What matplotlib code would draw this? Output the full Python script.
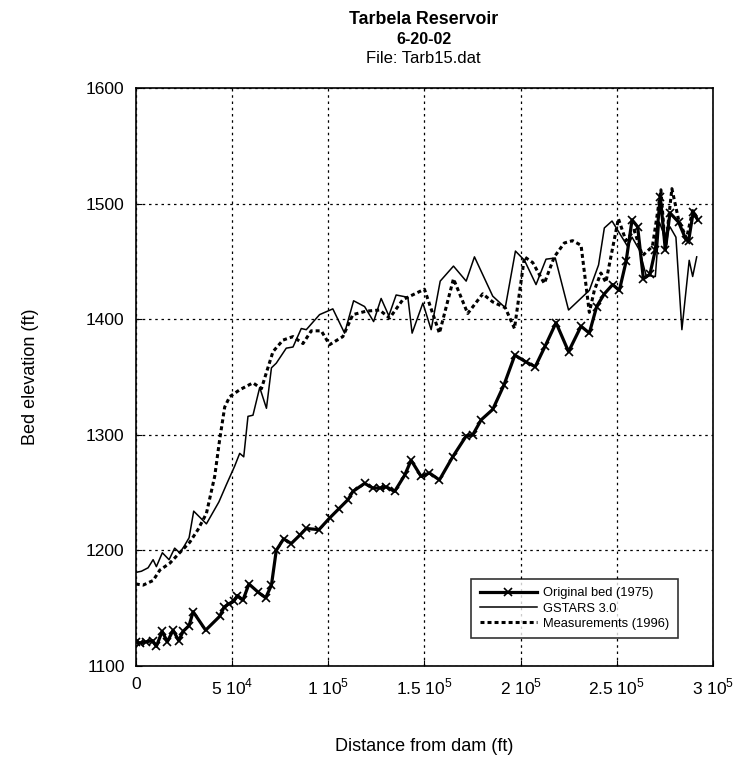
import matplotlib
matplotlib.use("Agg")
import matplotlib.pyplot as plt
from matplotlib.ticker import FixedLocator

plt.rcParams['font.family'] = ['Liberation Sans', 'DejaVu Sans']
plt.rcParams['mathtext.fontset'] = 'custom'
plt.rcParams['mathtext.rm'] = 'Liberation Sans'

# Original bed (1975)
orig_x = [0, 2100, 5500, 8700, 10700, 13700, 16400, 19400, 22300, 24600, 27700, 29800,
          36300, 43600, 45900, 48500, 50900, 52800, 55700, 58800, 63500, 67500, 70500,
          73000, 76800, 80800, 85100, 88600, 95200, 100700, 105500, 110300, 112800,
          118900, 123200, 126700, 130200, 134500, 139700, 143100, 148300, 152600,
          157800, 164700, 171700, 175100, 179500, 185500, 191300, 197000, 202800,
          207600, 212800, 218400, 224900, 231400, 235700, 239500, 243500, 247800,
          251300, 254800, 257900, 260800, 263800, 267200, 270000, 272600, 275200,
          277600, 282100, 285900, 287300, 289700, 292000]
orig_y = [1121, 1120, 1121, 1122, 1117, 1130, 1121, 1131, 1122, 1130, 1135, 1147,
          1131, 1143, 1151, 1154, 1156, 1161, 1157, 1171, 1164, 1159, 1170,
          1200, 1210, 1206, 1213, 1219, 1218, 1228, 1236, 1244, 1251,
          1258, 1254, 1254, 1255, 1251, 1265, 1278, 1264, 1267,
          1261, 1281, 1299, 1300, 1313, 1322, 1343, 1369, 1363,
          1359, 1377, 1397, 1372, 1394, 1388, 1411, 1422, 1430,
          1425, 1450, 1486, 1480, 1435, 1439, 1460, 1506, 1460,
          1492, 1484, 1469, 1468, 1493, 1486]

# GSTARS 3.0
gs_x = [0, 2900, 6400, 9000, 10700, 13800, 17300, 20200, 22800, 24900, 27700, 30100,
        36700, 43200, 47100, 51400, 54000, 56100, 58300, 60900, 64400, 67900, 70500,
        73000, 78200, 81700, 86000, 88600, 95500, 102400, 108500, 113200, 118900,
        123600, 127500, 131500, 135300, 141400, 143600, 149200, 153500, 158200,
        165100, 171700, 176000, 185500, 192000, 197300, 202000, 208000, 213200,
        218000, 224900, 235700, 240500, 243500, 247500, 255600, 257900, 261700,
        265200, 270000, 272100, 275200, 277600, 280700, 283800, 287600, 289400, 291500]
gs_y = [1181, 1182, 1185, 1192, 1186, 1198, 1192, 1202, 1198, 1203, 1211, 1234,
        1223, 1242, 1257, 1273, 1284, 1281, 1316, 1317, 1341, 1323, 1358,
        1362, 1375, 1376, 1392, 1391, 1404, 1409, 1388, 1416, 1411,
        1398, 1418, 1403, 1421, 1419, 1388, 1414, 1391, 1433,
        1446, 1433, 1454, 1420, 1410, 1459, 1451, 1430, 1452,
        1453, 1408, 1425, 1447, 1479, 1485, 1463, 1471, 1460,
        1438, 1437, 1484, 1470, 1480, 1471, 1391, 1451, 1437, 1454]

# Measurements (1996)
ms_x = [0, 3800, 9000, 12500, 17700, 22800, 28000, 32300, 36700, 41000, 43600, 46200,
        48800, 54000, 60900, 65300, 67900, 71300, 76500, 81700, 86900, 91200, 96400,
        100700, 107600, 112800, 119700, 126700, 131900, 138800, 150000, 157800,
        165100, 172500, 180300, 185500, 192000, 196800, 202000, 206300, 212300,
        217500, 222700, 227000, 231400, 235700, 238300, 241700, 244300, 250800,
        254700, 259000, 263300, 268500, 272900, 275200, 278600, 282100, 286200,
        289400, 292000]
ms_y = [1171, 1170, 1174, 1183, 1189, 1198, 1207, 1218, 1232, 1264, 1296, 1324,
        1333, 1339, 1345, 1340, 1354, 1372, 1382, 1385, 1379, 1390, 1390,
        1378, 1385, 1404, 1407, 1408, 1401, 1417, 1426, 1388,
        1435, 1405, 1422, 1415, 1410, 1392, 1454, 1449, 1431,
        1454, 1466, 1468, 1464, 1406, 1425, 1440, 1432, 1487,
        1468, 1477, 1455, 1463, 1512, 1461, 1513, 1486, 1470,
        1494, 1487]

xtick_vals = [0, 50000, 100000, 150000, 200000, 250000, 300000]
xtick_labels = ['0', r'5 10$^{4}$', r'1 10$^{5}$', r'1.5 10$^{5}$', r'2 10$^{5}$',
                r'2.5 10$^{5}$', r'3 10$^{5}$']
ytick_vals = [1100, 1200, 1300, 1400, 1500, 1600]

fig = plt.figure(figsize=(7.42, 7.66), dpi=100)
ax = fig.add_axes([0.183, 0.1305, 0.778, 0.7545])

ax.plot(orig_x, orig_y, color='black', lw=2.3, marker='x', ms=6, mew=1.2,
        label='Original bed (1975)')
ax.plot(gs_x, gs_y, color='black', lw=1.1, label='GSTARS 3.0')
ax.plot(ms_x, ms_y, color='black', lw=2.2, linestyle=(0, (1.3, 1.0)),
        label='Measurements (1996)')

ax.set_xlim(0, 300000)
ax.set_ylim(1100, 1600)
ax.xaxis.set_major_locator(FixedLocator(xtick_vals))
ax.set_xticklabels(xtick_labels)
ax.set_yticks(ytick_vals)
ax.tick_params(direction='in', labelsize=12.5, length=4, pad=8)
ax.grid(True, color='black', linestyle=(0, (2, 3)), lw=0.9)
for s in ax.spines.values():
    s.set_linewidth(1.2)

ax.set_xlabel('Distance from dam (ft)', fontsize=13, labelpad=29)
ax.set_ylabel('Bed elevation (ft)', fontsize=13, labelpad=34)

fig.text(0.571, 0.975, 'Tarbela Reservoir', ha='center', va='center',
         fontsize=12.8, fontweight='bold')
fig.text(0.571, 0.948, '6-20-02', ha='center', va='center',
         fontsize=11.5, fontweight='bold')
fig.text(0.571, 0.924, 'File: Tarb15.dat', ha='center', va='center', fontsize=12)

leg = ax.legend(loc='lower right', bbox_to_anchor=(0.950, 0.037), fontsize=9.3,
                frameon=True, fancybox=False, edgecolor='black', handlelength=4.4,
                borderpad=0.65, labelspacing=0.25, handletextpad=0.5)
leg.get_frame().set_linewidth(1.2)

fig.savefig('out.png', dpi=100)
